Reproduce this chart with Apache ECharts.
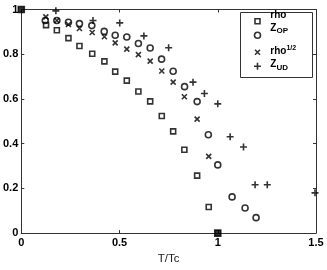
<!DOCTYPE html>
<html><head><meta charset="utf-8">
<script src="https://cdn.jsdelivr.net/npm/echarts@6/dist/echarts.min.js"></script>
<style>html,body{margin:0;padding:0;background:#fff}#c{width:327px;height:270px}</style>
</head><body><div id="c"></div>
<script>
// ---- data ----
const xTicks = [0, 0.5, 1, 1.5];
const xTickLabels = ['0', '0.5', '1', '1.5'];
const yTicks = [0, 0.2, 0.4, 0.6, 0.8, 1];
const yTickLabels = ['0', '0.2', '0.4', '0.6', '0.8', '1'];

const seriesNames = ['rho', 'Z_OP', 'rho^1/2', 'Z_UD'];

const rhoX = [0, 0.126, 0.181, 0.240, 0.296, 0.361, 0.423, 0.478, 0.537, 0.596, 0.656, 0.715, 0.773, 0.830, 0.895, 0.954, 1.0];
const rhoY = [1, 0.930, 0.907, 0.872, 0.837, 0.802, 0.768, 0.722, 0.682, 0.633, 0.589, 0.524, 0.455, 0.373, 0.257, 0.117, 0];

const zopX = [0.122, 0.181, 0.240, 0.296, 0.359, 0.422, 0.478, 0.537, 0.596, 0.656, 0.714, 0.773, 0.831, 0.895, 0.952, 1.0, 1.073, 1.139, 1.195];
const zopY = [0.951, 0.951, 0.943, 0.937, 0.928, 0.902, 0.885, 0.877, 0.848, 0.828, 0.778, 0.724, 0.655, 0.588, 0.440, 0.305, 0.162, 0.112, 0.069];

const rhoHalfX = [0.125, 0.181, 0.240, 0.296, 0.361, 0.423, 0.478, 0.537, 0.596, 0.656, 0.715, 0.773, 0.830, 0.895, 0.954];
const rhoHalfY = [0.967, 0.951, 0.933, 0.915, 0.897, 0.878, 0.851, 0.823, 0.798, 0.769, 0.725, 0.675, 0.610, 0.510, 0.343];

const zudX = [0.176, 0.365, 0.501, 0.624, 0.750, 0.874, 0.932, 1.0, 1.063, 1.131, 1.190, 1.252, 1.495];
const zudY = [0.994, 0.951, 0.940, 0.882, 0.829, 0.675, 0.624, 0.578, 0.431, 0.385, 0.216, 0.216, 0.180];

// ---- chart ----
const AX = '#333';
const FONT = 'Liberation Sans, Arial, sans-serif';
const pair = (xs, ys) => xs.map((x, i) => [x, ys[i]]);
const tickFmt = (ticks, labels) => v => {
  const i = ticks.findIndex(t => Math.abs(t - v) < 1e-9);
  return i >= 0 ? labels[i] : '';
};
const hollow = { color: 'rgba(0,0,0,0)', borderColor: '#000', borderWidth: 1.6 };
const crossPath = 'path://M0,0L10,10M10,0L0,10';
const plusPath = 'path://M5,0L5,10M0,5L10,5';

const rhoData = pair(rhoX, rhoY).map((p, i) =>
  (i === 0 || i === rhoX.length - 1)
    ? { value: p, symbolSize: 6, itemStyle: { color: '#000', borderColor: '#000' } }
    : p);

const symbols = [
  { sym: 'rect', size: 5 },
  { sym: 'circle', size: 6 },
  { sym: crossPath, size: 5 },
  { sym: plusPath, size: 7 }
];

const richStyles = {
  b: { fontSize: 10, fontWeight: 'bold', color: '#000', lineHeight: 14, fontFamily: FONT },
  sub: { fontSize: 8, fontWeight: 'bold', color: '#000', lineHeight: 4, verticalAlign: 'bottom', fontFamily: FONT },
  sup: { fontSize: 7, fontWeight: 'bold', color: '#000', lineHeight: 6, verticalAlign: 'top', fontFamily: FONT }
};
const legendTexts = {
  'rho': '{b|rho}',
  'Z_OP': '{b|Z}{sub|OP}',
  'rho^1/2': '{b|rho}{sup|1/2}',
  'Z_UD': '{b|Z}{sub|UD}'
};
const markerCX = 256.7, textStartX = 269.5;
const markerCY = [23.3, 37.3, 52.3, 68.3];
const shiftUp = [6.1, 7.5, 0.8, 1.8];

const legends = seriesNames.map((name, i) => {
  const k = symbols[i].size;
  return {
    orient: 'vertical',
    left: markerCX - k / 2,
    top: markerCY[i] - 7 - shiftUp[i],
    padding: 0,
    itemWidth: k, itemHeight: k,
    data: [name],
    selectedMode: false,
    itemStyle: { borderWidth: 1.6 },
    formatter: n => legendTexts[n],
    textStyle: {
      padding: [0, 0, 2 * shiftUp[i], textStartX - markerCX - k / 2 - 5],
      rich: richStyles
    }
  };
});

const chart = echarts.init(document.getElementById('c'), null, { renderer: 'canvas' });
chart.setOption({
  animation: false,
  backgroundColor: '#fff',
  grid: { left: 21, right: 11, top: 9.5, bottom: 28 },
  xAxis: [{
    type: 'value', min: 0, max: 1.5, interval: 0.5, position: 'bottom',
    name: 'T/Tc', nameLocation: 'middle', nameGap: 15,
    nameTextStyle: { fontSize: 11.5, color: '#222', fontFamily: FONT },
    axisLine: { show: true, onZero: false, lineStyle: { color: AX, width: 1 } },
    axisTick: { show: true, inside: true, length: 3, lineStyle: { color: AX } },
    splitLine: { show: false },
    axisLabel: { margin: 4, fontSize: 11, fontWeight: 'bold', color: '#000', fontFamily: FONT, formatter: tickFmt(xTicks, xTickLabels) }
  }, {
    type: 'value', min: 0, max: 1.5, interval: 0.5, position: 'top',
    axisLine: { show: true, onZero: false, lineStyle: { color: AX, width: 1 } },
    axisTick: { show: true, inside: true, length: 3, lineStyle: { color: AX } },
    splitLine: { show: false }, axisLabel: { show: false }
  }],
  yAxis: [{
    type: 'value', min: 0, max: 1, interval: 0.2, position: 'left',
    axisLine: { show: true, onZero: false, lineStyle: { color: AX, width: 1 } },
    axisTick: { show: true, inside: true, length: 3, lineStyle: { color: AX } },
    splitLine: { show: false },
    axisLabel: { margin: 3, fontSize: 11, fontWeight: 'bold', color: '#000', fontFamily: FONT, formatter: tickFmt(yTicks, yTickLabels) }
  }, {
    type: 'value', min: 0, max: 1, interval: 0.2, position: 'right',
    axisLine: { show: true, onZero: false, lineStyle: { color: AX, width: 1 } },
    axisTick: { show: true, inside: true, length: 3, lineStyle: { color: AX } },
    splitLine: { show: false }, axisLabel: { show: false }
  }],
  legend: legends,
  graphic: [{
    type: 'rect', z: 0, zlevel: 0,
    shape: { x: 240.5, y: 12.5, width: 72, height: 65 },
    style: { fill: '#fff', stroke: AX, lineWidth: 1 }
  }],
  series: [
    { name: seriesNames[0], type: 'scatter', clip: false, symbol: symbols[0].sym, symbolSize: symbols[0].size, itemStyle: hollow, data: rhoData },
    { name: seriesNames[1], type: 'scatter', clip: false, symbol: symbols[1].sym, symbolSize: symbols[1].size, itemStyle: hollow, data: pair(zopX, zopY) },
    { name: seriesNames[2], type: 'scatter', clip: false, symbol: symbols[2].sym, symbolSize: symbols[2].size, itemStyle: hollow, data: pair(rhoHalfX, rhoHalfY) },
    { name: seriesNames[3], type: 'scatter', clip: false, symbol: symbols[3].sym, symbolSize: symbols[3].size, itemStyle: hollow, data: pair(zudX, zudY) }
  ]
});
</script>
</body></html>
